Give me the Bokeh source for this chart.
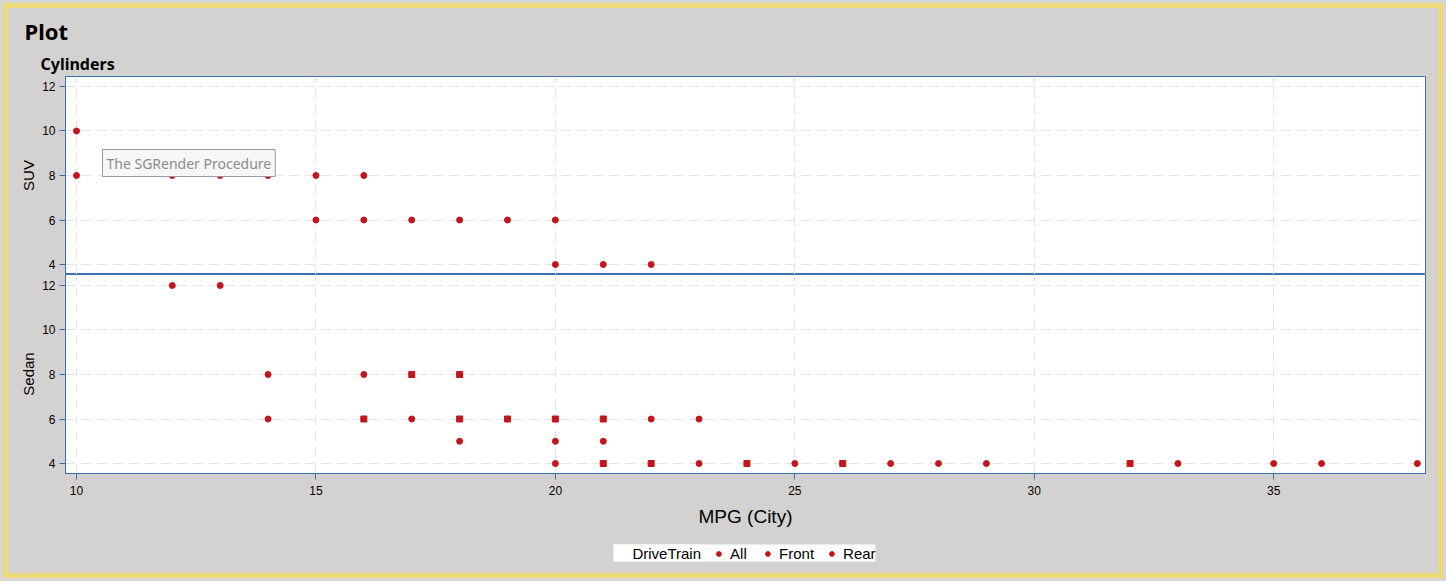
from bokeh.plotting import figure
from bokeh.layouts import column
from bokeh.models import (Range1d, FixedTicker, Legend, LegendItem, Label,
                          ColumnDataSource, Title, BoxAnnotation)
from bokeh.transform import factor_mark
from bokeh.embed import file_html
from bokeh.resources import INLINE

# ---------------- data ----------------
suv_mpg = [10, 10, 12, 13, 14, 15, 16, 15, 16, 17, 18, 19, 20, 20, 21, 22]
suv_cyl = [10, 8, 8, 8, 8, 8, 8, 6, 6, 6, 6, 6, 6, 4, 4, 4]
suv_shared = [0, 0, 0, 0, 0, 0, 0, 0, 0, 0, 0, 0, 0, 0, 0, 0]

sedan_mpg = [12, 13,
             14, 16, 17, 18,
             14, 16, 17, 18, 19, 20, 21, 22, 23,
             18, 20, 21,
             20, 21, 22, 23, 24, 25, 26, 27, 28, 29, 32, 33, 35, 36, 38]
sedan_cyl = [12, 12,
             8, 8, 8, 8,
             6, 6, 6, 6, 6, 6, 6, 6, 6,
             5, 5, 5,
             4, 4, 4, 4, 4, 4, 4, 4, 4, 4, 4, 4, 4, 4, 4]
sedan_shared = [0, 0,
                0, 0, 1, 1,
                0, 1, 0, 1, 1, 1, 1, 0, 0,
                0, 0, 0,
                0, 1, 1, 0, 1, 0, 1, 0, 0, 0, 1, 0, 0, 0, 0]

legend_title = "DriveTrain"
drivetrains = ["All", "Front", "Rear"]
x_ticks = [10, 15, 20, 25, 30, 35]
y_ticks = [4, 6, 8, 10, 12]

# ---------------- style ----------------
GREY = "#D3D2D0"
YELLOW = "#EDD87A"
BLUE = "#3D70B0"
RED = "#C4151C"
GRID = "#E4E4EC"
TICK_FONT = "Liberation Sans"

overlap_kinds = ["single", "multiple"]
marker_map = factor_mark("kind", ["circle", "square"], overlap_kinds)


def kinds(flags):
    return [overlap_kinds[f] for f in flags]


xr = Range1d(9.77, 38.17)


def style(p, ylabel):
    p.background_fill_color = "white"
    p.border_fill_color = GREY
    p.outline_line_color = BLUE
    p.outline_line_width = 1
    p.xgrid.ticker = FixedTicker(ticks=x_ticks)
    p.ygrid.ticker = FixedTicker(ticks=y_ticks)
    for g in (p.xgrid, p.ygrid):
        g.grid_line_color = GRID
        g.grid_line_dash = "10 6"
        g.grid_line_width = 1
    ax = p.yaxis[0]
    ax.ticker = FixedTicker(ticks=y_ticks)
    ax.axis_line_color = BLUE
    ax.major_tick_line_color = BLUE
    ax.major_tick_out = 6
    ax.major_tick_in = 0
    ax.minor_tick_line_color = None
    ax.major_label_text_font = TICK_FONT
    ax.major_label_text_font_size = "12px"
    ax.major_label_text_color = "black"
    ax.major_label_standoff = 4
    ax.axis_label = ylabel
    ax.axis_label_text_font = "Liberation Sans"
    ax.axis_label_text_font_size = "15px"
    ax.axis_label_text_font_style = "normal"
    ax.axis_label_text_color = "black"
    ax.axis_label_standoff = 2


# ---------------- SUV panel (with titles) ----------------
p1 = figure(frame_width=1360, frame_height=198, x_range=xr,
            y_range=Range1d(3.551, 12.449), output_backend="svg",
            toolbar_location=None, x_axis_location=None, title=None,
            min_border_left=57, min_border_right=13, min_border_top=68,
            min_border_bottom=0)
style(p1, "SUV")
p1.add_layout(Title(text="Cylinders", align="left", offset=-25,
                    text_font="Noto Sans", text_font_style="bold",
                    text_font_size="16px", text_color="black",
                    standoff=4), "above")
p1.add_layout(Title(text="Plot", align="left", offset=-41,
                    text_font="Noto Sans", text_font_style="bold",
                    text_font_size="22px", text_color="black",
                    standoff=6), "above")
s1 = ColumnDataSource(dict(mpg=suv_mpg, cyl=suv_cyl, kind=kinds(suv_shared)))
p1.scatter("mpg", "cyl", source=s1, marker=marker_map, size=6,
           fill_color=RED, line_color=RED)
p1.add_layout(Label(x=37, y=98, x_units="screen", y_units="screen",
                    text="The SGRender Procedure",
                    text_font="Noto Sans", text_font_size="14px",
                    text_color="#8C8C8C", text_baseline="bottom",
                    background_fill_color="#F7F7F7",
                    border_line_color="#9A9A9A", border_line_width=1,
                    padding=4))

# ---------------- Sedan panel ----------------
p2 = figure(frame_width=1360, frame_height=199, x_range=xr,
            y_range=Range1d(3.551, 12.494), output_backend="svg",
            toolbar_location=None, title=None,
            min_border_left=57, min_border_right=13, min_border_top=0,
            min_border_bottom=60)
style(p2, "Sedan")
s2 = ColumnDataSource(dict(mpg=sedan_mpg, cyl=sedan_cyl,
                           kind=kinds(sedan_shared)))
p2.scatter("mpg", "cyl", source=s2, marker=marker_map, size=6,
           fill_color=RED, line_color=RED)

xa = p2.xaxis[0]
xa.ticker = FixedTicker(ticks=x_ticks)
xa.axis_line_color = BLUE
xa.major_tick_line_color = BLUE
xa.major_tick_out = 6
xa.major_tick_in = 0
xa.minor_tick_line_color = None
xa.major_label_text_font = TICK_FONT
xa.major_label_text_font_size = "12px"
xa.major_label_text_color = "black"
xa.major_label_standoff = 6
xa.axis_label = "MPG (City)"
xa.axis_label_text_font = "Liberation Sans"
xa.axis_label_text_font_size = "19px"
xa.axis_label_text_font_style = "normal"
xa.axis_label_text_color = "black"
xa.axis_label_standoff = 8

# ---------------- legend footer ----------------
# the footer's frame matches the panels above (page pixels x 65..1425,
# y 533..573); its ranges are those pixel positions
FOOT_L, FOOT_R, FOOT_T, FOOT_B = 65, 1425, 533, 573
p3 = figure(frame_width=FOOT_R - FOOT_L, frame_height=FOOT_B - FOOT_T,
            x_range=Range1d(FOOT_L, FOOT_R), y_range=Range1d(FOOT_B, FOOT_T),
            output_backend="svg", toolbar_location=None,
            title=None, x_axis_location=None, y_axis_location=None,
            min_border_left=57, min_border_right=13,
            min_border_top=0, min_border_bottom=0)
p3.grid.visible = False
p3.background_fill_color = GREY
p3.border_fill_color = GREY
p3.outline_line_color = None

# first (heading) entry reserves the room for the bold heading
head = p3.scatter("mpg", "cyl", source=s2, size=7, marker="circle",
                  fill_alpha=0, line_alpha=0)
items = [LegendItem(label=legend_title, renderers=[head], index=0)]
# legend proxies: the real data, lying outside this footer's ranges
for name in drivetrains:
    r = p3.scatter("mpg", "cyl", source=s2, size=7, marker="circle",
                   fill_color=RED, line_color=RED)
    items.append(LegendItem(label=name, renderers=[r], index=0))
legend = Legend(items=items, orientation="horizontal", location="center",
                glyph_width=12, glyph_height=12, label_standoff=6,
                spacing=11, padding=4, margin=0,
                label_height=13,
                label_text_font="Liberation Sans", label_text_font_size="15px",
                label_text_color="black",
                background_fill_color="white", background_fill_alpha=1,
                border_line_color=None)
p3.add_layout(legend, "center")
# cover the plain heading entry and write it in bold, as in the original
p3.add_layout(BoxAnnotation(left=613, right=705, top=544, bottom=561,
                            fill_color="white", fill_alpha=1,
                            line_color=None, level="overlay"))
p3.add_layout(Label(x=619, y=556, text=legend_title,
                    text_font="DejaVu Sans", text_font_style="bold",
                    text_font_size="11px", text_color="black",
                    text_baseline="alphabetic", level="overlay"))

layout = column(p1, p2, p3, spacing=0,
                styles={"border": "5px solid " + YELLOW,
                        "background-color": GREY,
                        "margin": "3px",
                        "box-shadow": "0 0 0 3px #D6D6D4"})

open("out.html", "w").write(file_html(layout, INLINE))
